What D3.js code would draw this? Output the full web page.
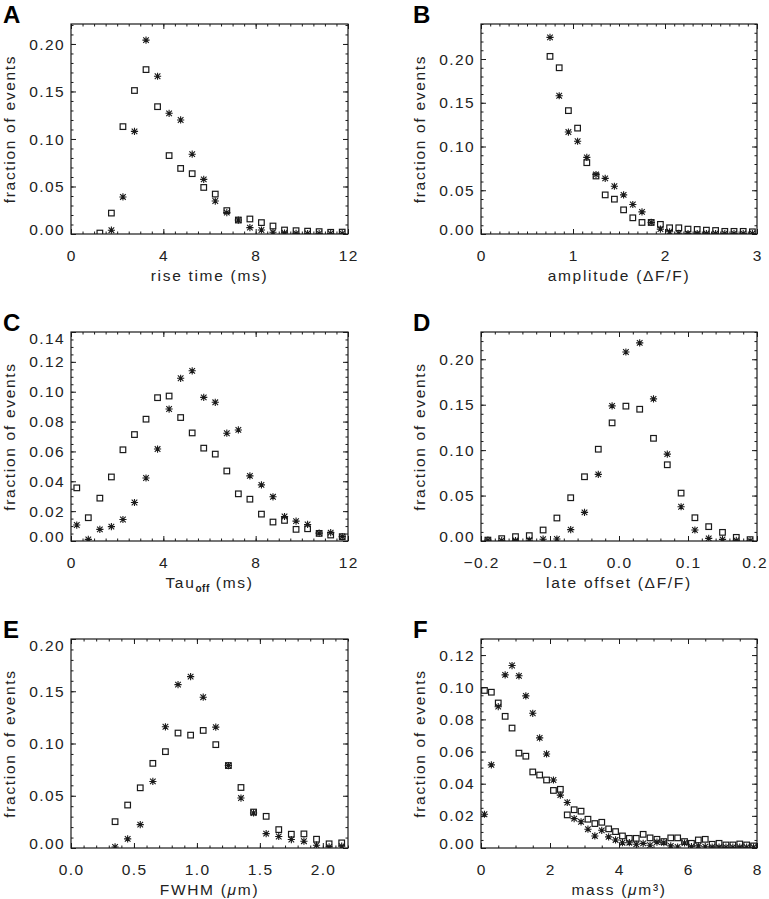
<!DOCTYPE html>
<html><head><meta charset="utf-8">
<script src="https://cdn.jsdelivr.net/npm/d3@7"></script>
<style>body{margin:0;background:#fff}svg{display:block}</style>
</head><body><svg id="c" width="769" height="899"></svg>
<script>
// ---------- Panel A: rise time (ms) ----------
const aBins    = [1.25,1.75,2.25,2.75,3.25,3.75,4.25,4.75,5.25,5.75,6.25,6.75,7.25,7.75,8.25,8.75,9.25,9.75,10.25,10.75,11.25,11.75];
const aSquares = [0.001,0.022,0.113,0.151,0.173,0.134,0.0825,0.069,0.0635,0.049,0.042,0.0246,0.0147,0.0158,0.012,0.0084,0.0042,0.0035,0.003,0.0025,0.0018,0.002];
const aStars   = [null,0.004,0.039,0.108,0.204,0.166,0.127,0.120,0.084,0.0575,0.0347,0.0225,0.0147,0.0067,0.0042,0.0018,0.001,0.0007,0.0005,0.0005,0.0005,0.0005];
const aXTicks  = [0,4,8,12];
const aYTicks  = [0,0.05,0.10,0.15,0.20];

// ---------- Panel B: amplitude ----------
const bBins    = [0.75,0.85,0.95,1.05,1.15,1.25,1.35,1.45,1.55,1.65,1.75,1.85,1.95,2.05,2.15,2.25,2.35,2.45,2.55,2.65,2.75,2.85,2.95];
const bSquares = [0.203,0.190,0.141,0.121,0.0815,0.0663,0.0447,0.0398,0.0276,0.0185,0.0132,0.0132,0.011,0.0071,0.0071,0.0056,0.0052,0.0044,0.004,0.003,0.003,0.003,0.0025];
const bStars   = [0.2247,0.158,0.1165,0.106,0.0876,0.068,0.0636,0.0546,0.0447,0.0337,0.0253,0.0132,0.0056,0.0025,0.0008,0.0005,0.0005,0.0005,0.0005,0.0005,0.0005,0.0005,0.0005];
const bXTicks  = [0,1,2,3];
const bYTicks  = [0,0.05,0.10,0.15,0.20];

// ---------- Panel C: Tau_off (ms) ----------
const cBins    = [0.25,0.75,1.25,1.75,2.25,2.75,3.25,3.75,4.25,4.75,5.25,5.75,6.25,6.75,7.25,7.75,8.25,8.75,9.25,9.75,10.25,10.75,11.25,11.75];
const cSquares = [0.0356,0.0156,0.0287,0.0429,0.0611,0.0713,0.0816,0.096,0.0971,0.0827,0.0724,0.0622,0.0582,0.0469,0.0316,0.028,0.018,0.0127,0.0138,0.0078,0.0082,0.0051,0.004,0.0029];
const cStars   = [0.0107,0.0011,0.0078,0.0096,0.0144,0.0258,0.0422,0.0616,0.0884,0.109,0.114,0.0962,0.0929,0.0722,0.0744,0.0436,0.0376,0.0296,0.0164,0.0133,0.0111,0.0053,0.0056,0.0029];
const cXTicks  = [0,4,8,12];
const cYTicks  = [0,0.02,0.04,0.06,0.08,0.10,0.12,0.14];

// ---------- Panel D: late offset ----------
const dBins    = [-0.19,-0.17,-0.15,-0.13,-0.11,-0.09,-0.07,-0.05,-0.03,-0.01,0.01,0.03,0.05,0.07,0.09,0.11,0.13,0.15,0.17,0.19];
const dSquares = [0.001,0.0026,0.0048,0.0059,0.0121,0.0253,0.0476,0.0707,0.101,0.130,0.1484,0.145,0.113,0.0839,0.0527,0.0256,0.0158,0.0095,0.004,0.0015];
const dStars   = [0.001,0.0005,0.0005,0.001,0.002,0.0022,0.0125,0.0315,0.0733,0.1487,0.208,0.218,0.1564,0.0956,0.0377,0.0121,0.0029,0.0018,0.0007,0.0003];
const dXTicks  = [-0.2,-0.1,0.0,0.1,0.2];
const dYTicks  = [0,0.05,0.10,0.15,0.20];

// ---------- Panel E: FWHM ----------
const eBins    = [0.35,0.45,0.55,0.65,0.75,0.85,0.95,1.05,1.15,1.25,1.35,1.45,1.55,1.65,1.75,1.85,1.95,2.05,2.15];
const eSquares = [0.0252,0.0411,0.0576,0.081,0.0922,0.110,0.108,0.1125,0.0989,0.0789,0.0579,0.0344,0.0303,0.0176,0.0132,0.0135,0.0084,0.004,0.0049];
const eStars   = [0.001,0.0087,0.0224,0.0637,0.116,0.1563,0.164,0.1443,0.1157,0.0789,0.0478,0.0335,0.0138,0.011,0.0081,0.0065,0.0027,0.001,0.0017];
const eXTicks  = [0,0.5,1.0,1.5,2.0];
const eYTicks  = [0,0.05,0.10,0.15,0.20];

// ---------- Panel F: mass ----------
const fBins    = [0.1,0.3,0.5,0.7,0.9,1.1,1.3,1.5,1.7,1.9,2.1,2.3,2.5,2.7,2.9,3.1,3.3,3.5,3.7,3.9,4.1,4.3,4.5,4.7,4.9,5.1,5.3,5.5,5.7,5.9,6.1,6.3,6.5,6.7,6.9,7.1,7.3,7.5,7.7,7.9];
const fSquares = [0.098,0.0969,0.0902,0.0819,0.0746,0.059,0.0571,0.0473,0.0454,0.0423,0.0358,0.0365,0.0206,0.0238,0.0229,0.0179,0.0152,0.016,0.0119,0.0102,0.0075,0.006,0.006,0.0085,0.0063,0.0054,0.004,0.0063,0.0063,0.004,0.0029,0.005,0.0054,0.0023,0.0029,0.0019,0.0019,0.0025,0.0019,0.0013];
const fStars   = [0.021,0.0517,0.0879,0.1077,0.1135,0.1071,0.0946,0.0838,0.0685,0.0585,0.0423,0.0329,0.0283,0.0183,0.0163,0.0117,0.0075,0.011,0.0069,0.005,0.0033,0.0033,0.0023,0.0029,0.0017,0.0037,0.0033,0.0013,0.0006,0.0031,0.0008,0.0013,0.0008,0.0006,0.0005,0.0005,0.0005,0.0005,0.0005,0.0005];
const fXTicks  = [0,2,4,6,8];
const fYTicks  = [0,0.02,0.04,0.06,0.08,0.10,0.12];

const panels = [
  {letter:"A", box:[71,24,348,234],  xd:[0,12],    yd:[0,0.221], bins:aBins, sq:aSquares, st:aStars, xt:aXTicks, yt:aYTicks, xm:0.5,  ym:0.01,  xf:d3.format("d"),   yf:d3.format(".2f"), title:"rise time (ms)"},
  {letter:"B", box:[481,24,757,234], xd:[0,3],     yd:[0,0.24],  bins:bBins, sq:bSquares, st:bStars, xt:bXTicks, yt:bYTicks, xm:0.1,  ym:0.01,  xf:d3.format("d"),   yf:d3.format(".2f"), title:"amplitude (ΔF/F)"},
  {letter:"C", box:[71,332,348,541], xd:[0,12],    yd:[0,0.14],  bins:cBins, sq:cSquares, st:cStars, xt:cXTicks, yt:cYTicks, xm:0.5,  ym:0.005, xf:d3.format("d"),   yf:d3.format(".2f"), title:"tau"},
  {letter:"D", box:[481,332,757,541],xd:[-0.2,0.2],yd:[0,0.23],  bins:dBins, sq:dSquares, st:dStars, xt:dXTicks, yt:dYTicks, xm:0.02, ym:0.01,  xf:v=>d3.format(".1f")(v).replace("-","\u2212"), yf:d3.format(".2f"), title:"late offset (ΔF/F)"},
  {letter:"E", box:[71,639,348,848], xd:[0,2.2],   yd:[0,0.20],  bins:eBins, sq:eSquares, st:eStars, xt:eXTicks, yt:eYTicks, xm:0.1,  ym:0.01,  xf:d3.format(".1f"), yf:d3.format(".2f"), title:"fwhm"},
  {letter:"F", box:[481,639,757,848],xd:[0,8],     yd:[0,0.13],  bins:fBins, sq:fSquares, st:fStars, xt:fXTicks, yt:fYTicks, xm:0.5,  ym:0.005, xf:d3.format("d"),   yf:d3.format(".2f"), title:"mass"}
];

const svg = d3.select("#c");
const W = 769;
const FONT = "'Liberation Sans', Arial, sans-serif";
const INK = "#1a1a1a";
const TXT = "#222";

function range(a,b,s){const out=[];const n=Math.round((b-a)/s);for(let i=0;i<=n;i++)out.push(a+i*s);return out;}

panels.forEach((p,pi)=>{
  const [L,T,R,B] = p.box;
  const x = d3.scaleLinear().domain(p.xd).range([L,R]);
  const y = d3.scaleLinear().domain(p.yd).range([B,T]);
  const g = svg.append("g");

  const clipId = "clip"+pi;
  svg.append("clipPath").attr("id",clipId).append("rect").attr("x",L).attr("y",T).attr("width",R-L).attr("height",B-T);

  // minor + major ticks on all four sides (inward)
  const xMinor = range(p.xd[0],p.xd[1],p.xm);
  const yMinor = range(p.yd[0],p.yd[1],p.ym).filter(v=>v<=p.yd[1]+1e-9);
  const axes = [
    g.append("g").attr("transform",`translate(0,${B})`).call(d3.axisBottom(x).tickValues(xMinor).tickSize(-2.5).tickFormat("")),
    g.append("g").attr("transform",`translate(0,${T})`).call(d3.axisTop(x).tickValues(xMinor).tickSize(-2.5).tickFormat("")),
    g.append("g").attr("transform",`translate(${L},0)`).call(d3.axisLeft(y).tickValues(yMinor).tickSize(-2.5).tickFormat("")),
    g.append("g").attr("transform",`translate(${R},0)`).call(d3.axisRight(y).tickValues(yMinor).tickSize(-2.5).tickFormat("")),
    g.append("g").attr("transform",`translate(0,${B})`).call(d3.axisBottom(x).tickValues(p.xt).tickSize(-5).tickFormat("")),
    g.append("g").attr("transform",`translate(0,${T})`).call(d3.axisTop(x).tickValues(p.xt).tickSize(-5).tickFormat("")),
    g.append("g").attr("transform",`translate(${L},0)`).call(d3.axisLeft(y).tickValues(p.yt).tickSize(-5).tickFormat("")),
    g.append("g").attr("transform",`translate(${R},0)`).call(d3.axisRight(y).tickValues(p.yt).tickSize(-5).tickFormat(""))
  ];
  axes.forEach(a=>{a.select(".domain").remove();a.selectAll("line").attr("stroke",INK);});

  // frame
  g.append("rect").attr("x",L).attr("y",T).attr("width",R-L).attr("height",B-T)
    .attr("fill","none").attr("stroke",INK).attr("stroke-width",1.2);

  // x tick labels (kept inside the page width)
  g.selectAll(".xl").data(p.xt).enter().append("text")
    .attr("x",d=>x(d)+0.7).attr("y",B+21).attr("dy","0.36em")
    .attr("text-anchor","middle").attr("font-family",FONT).attr("font-size",15.5)
    .attr("letter-spacing",1.4).attr("fill",TXT).text(p.xf)
    .each(function(){
      const bb = this.getBBox();
      const over = bb.x + bb.width - (W - 1);
      if (over > 0) d3.select(this).attr("x", +d3.select(this).attr("x") - over);
    });
  // y tick labels (end labels kept inside the frame span)
  g.selectAll(".yl").data(p.yt).enter().append("text")
    .attr("x",L-6).attr("y",d=>Math.min(Math.max(y(d),T+6),B-4.5)).attr("dy","0.36em")
    .attr("text-anchor","end").attr("font-family",FONT).attr("font-size",15.5)
    .attr("letter-spacing",1.4).attr("fill",TXT).text(p.yf);

  // y title
  const cy = (T+B)/2, tx = L-62;
  g.append("text").attr("transform",`translate(${tx},${cy}) rotate(-90)`).attr("dy","0.36em")
    .attr("text-anchor","middle").attr("font-family",FONT).attr("font-size",15.5)
    .attr("letter-spacing",1.7).attr("fill",TXT).text("fraction of events");

  // x title
  const xt = g.append("text").attr("x",(L+R)/2).attr("y",B+47)
    .attr("text-anchor","middle").attr("font-family",FONT).attr("font-size",15.5)
    .attr("letter-spacing",1.7).attr("fill",TXT);
  if (p.title==="tau") {
    xt.append("tspan").text("Tau");
    xt.append("tspan").attr("font-size",10).attr("font-weight","bold").attr("dy",4).attr("letter-spacing",0.5).text("off");
    xt.append("tspan").attr("dy",-4).text(" (ms)");
  } else if (p.title==="fwhm") {
    xt.append("tspan").text("FWHM (");
    xt.append("tspan").attr("font-style","italic").text("\u03bc");
    xt.append("tspan").text("m)");
  } else if (p.title==="mass") {
    xt.append("tspan").text("mass (");
    xt.append("tspan").attr("font-style","italic").text("\u03bc");
    xt.append("tspan").text("m\u00b3)");
  } else xt.text(p.title);

  // panel letter
  svg.append("text").attr("x",L-68).attr("y",T-1).attr("font-family",FONT)
    .attr("font-weight","bold").attr("font-size",24).attr("fill","#000").text(p.letter);

  // markers
  const m = g.append("g").attr("clip-path",`url(#${clipId})`);
  const sqData = p.bins.map((b,i)=>({x:b,v:p.sq[i]})).filter(d=>d.v!=null);
  const stData = p.bins.map((b,i)=>({x:b,v:p.st[i]})).filter(d=>d.v!=null);
  m.selectAll(".sq").data(sqData).enter().append("rect")
    .attr("x",d=>x(d.x)-2.8).attr("y",d=>y(d.v)-2.8).attr("width",5.6).attr("height",5.6)
    .attr("fill","none").attr("stroke",INK).attr("stroke-width",1.2);
  const star = "M-3.6,0L3.6,0M0,-3.6L0,3.6M-2.8,-2.8L2.8,2.8M-2.8,2.8L2.8,-2.8";
  m.selectAll(".st").data(stData).enter().append("path")
    .attr("transform",d=>`translate(${x(d.x)},${y(d.v)})`).attr("d",star)
    .attr("fill","none").attr("stroke",INK).attr("stroke-width",1.1);
});
</script></body></html>
